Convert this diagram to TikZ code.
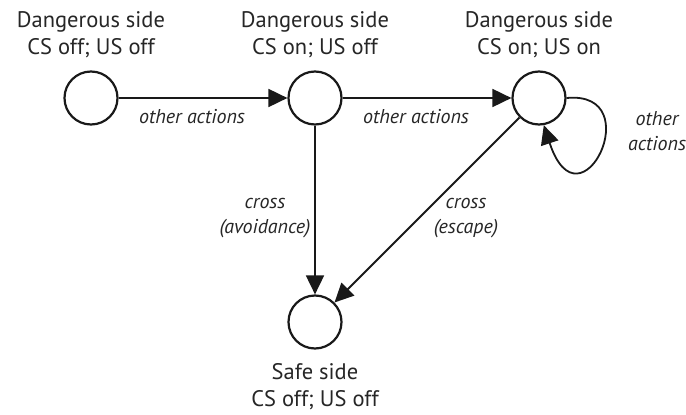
\documentclass[tikz,border=0pt]{standalone}
\usepackage{fontspec}
\setmainfont{PT Sans}
\usetikzlibrary{arrows.meta}
\begin{document}
\begin{tikzpicture}[x=1pt,y=-1pt,
  state/.style={circle,draw=black!90,line width=2.2pt,minimum size=53pt,inner sep=0pt},
  title/.style={align=center,font=\fontsize{22.5}{27}\selectfont,text=black!85,inner sep=0pt},
  lab/.style={align=center,font=\fontsize{20}{25}\selectfont\itshape,text=black!85,inner sep=0pt},
  arr/.style={line width=1.8pt,draw=black!90,-{Triangle[length=19pt,width=18pt]}}]
\useasboundingbox (0,0) rectangle (686,415);
\node[state] (c1) at (91,98) {};
\node[state] (c2) at (315,98) {};
\node[state] (c3) at (539,98) {};
\node[state] (c4) at (315,322) {};
\node[title] (t1) at (91,35) {Dangerous side\\CS off; US off};
\node[title] (t2) at (315,35) {Dangerous side\\CS on; US off};
\node[title] (t3) at (539,35) {Dangerous side\\CS on; US on};
\node[title] (t4) at (315,387) {Safe side\\CS off; US off};
\draw[arr] (c1) -- (c2);
\draw[arr] (c2) -- (c3);
\draw[arr] (c2) -- (c4);
\draw[arr] (c3) -- (c4);
\draw[arr] (c3.east) .. controls (650,90) and (580,235) .. (c3.-80);
\node[lab] (l1) at (192,117) {other actions};
\node[lab] (l2) at (416,117) {other actions};
\node[lab] (l3) at (265,218) {cross\\(avoidance)};
\node[lab] (l4) at (466,218) {cross\\(escape)};
\node[lab] (l5) at (657,131) {other\\actions};
\end{tikzpicture}
\end{document}
